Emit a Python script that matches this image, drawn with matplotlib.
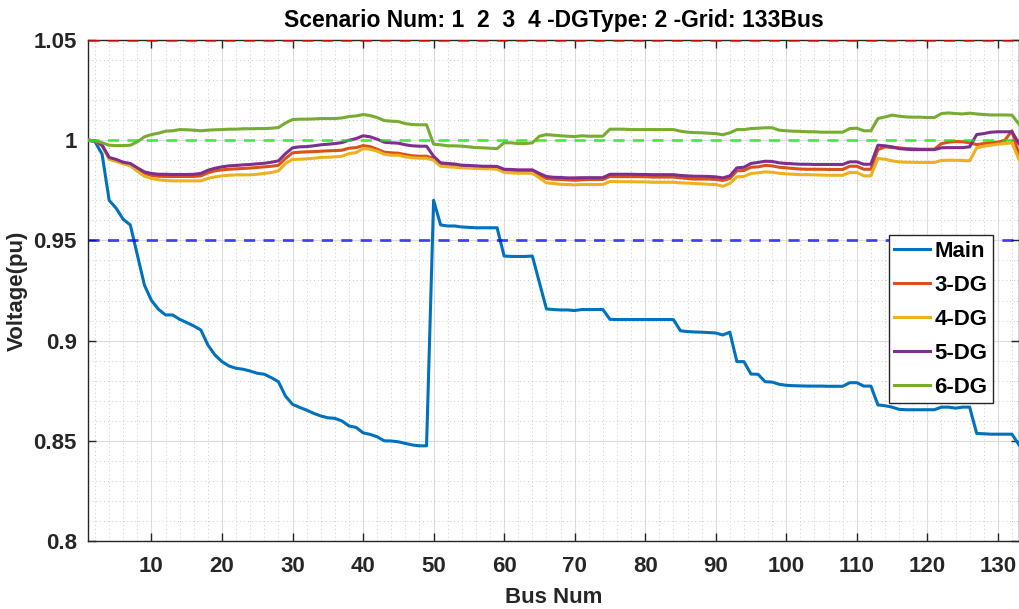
import matplotlib
matplotlib.use("Agg")
import matplotlib.pyplot as plt
from matplotlib.ticker import MultipleLocator, FixedLocator

plt.rcParams['font.family'] = ['Liberation Sans', 'DejaVu Sans']
plt.rcParams['font.weight'] = 'bold'

bus = list(range(1, 134))

v_main = [
    1.0, 0.9992, 0.993, 0.970, 0.966, 0.9605, 0.9577, 0.9427, 0.9277, 0.920,
    0.9156, 0.9128, 0.9128, 0.9106, 0.909, 0.9073, 0.9053, 0.8978, 0.8928, 0.8895,
    0.8873, 0.8862, 0.8857, 0.8848, 0.8837, 0.8832, 0.8815, 0.8795, 0.8723, 0.8682,
    0.8667, 0.8653, 0.8637, 0.8624, 0.8615, 0.8612, 0.8599, 0.8574, 0.8567, 0.854,
    0.8532, 0.852, 0.850, 0.8499, 0.8495, 0.8487, 0.8479, 0.8475, 0.8475, 0.970,
    0.9577, 0.9572, 0.9572, 0.9567, 0.9565, 0.9563, 0.9563, 0.9563, 0.9563, 0.9422,
    0.942, 0.942, 0.942, 0.9422, 0.929, 0.9158, 0.9155, 0.9153, 0.9153, 0.915,
    0.9155, 0.9155, 0.9155, 0.9155, 0.9106, 0.9105, 0.9105, 0.9105, 0.9105, 0.9105,
    0.9105, 0.9105, 0.9105, 0.9105, 0.9049, 0.9045, 0.9043, 0.9042, 0.904, 0.9038,
    0.9028, 0.9042, 0.8895, 0.8895, 0.8833, 0.8832, 0.8795, 0.8793, 0.8782, 0.8777,
    0.8775, 0.8774, 0.8773, 0.8773, 0.8773, 0.8772, 0.8772, 0.8772, 0.879, 0.879,
    0.8773, 0.8773, 0.8679, 0.8675, 0.8668, 0.8657, 0.8655, 0.8655, 0.8655, 0.8655,
    0.8655, 0.8668, 0.8668, 0.8663, 0.8668, 0.8668, 0.8537, 0.8535, 0.8533, 0.8533,
    0.8533, 0.8533, 0.848,
]

v_dg3 = [
    1.0, 0.9997, 0.9975, 0.991, 0.9899, 0.9887, 0.988, 0.9855, 0.9834, 0.9824,
    0.982, 0.9819, 0.9819, 0.9819, 0.9819, 0.9819, 0.9822, 0.9837, 0.9847, 0.9852,
    0.9855, 0.9857, 0.9859, 0.9861, 0.9864, 0.9867, 0.987, 0.9875, 0.9909, 0.9937,
    0.994, 0.9942, 0.9943, 0.9945, 0.9947, 0.9948, 0.995, 0.996, 0.9963, 0.9973,
    0.9968, 0.9955, 0.994, 0.9937, 0.9935, 0.9928, 0.9922, 0.992, 0.992, 0.991,
    0.9879, 0.9875, 0.9874, 0.987, 0.9869, 0.9867, 0.9866, 0.9865, 0.9864, 0.9849,
    0.9845, 0.9844, 0.9844, 0.9844, 0.9825, 0.9809, 0.9805, 0.9804, 0.9802, 0.98,
    0.9802, 0.9804, 0.9804, 0.9804, 0.9819, 0.9818, 0.9818, 0.9818, 0.9818, 0.9818,
    0.9816, 0.9816, 0.9816, 0.9816, 0.9812, 0.9809, 0.9806, 0.9806, 0.9806, 0.9804,
    0.9799, 0.9809, 0.9847, 0.9849, 0.9865, 0.9867, 0.9874, 0.9872, 0.9865, 0.9862,
    0.9859, 0.9856, 0.9855, 0.9855, 0.9855, 0.9854, 0.9854, 0.9854, 0.987, 0.987,
    0.9855, 0.9855, 0.9953, 0.9967, 0.9963, 0.9962, 0.9958, 0.9957, 0.9955, 0.9955,
    0.9955, 0.9983, 0.999, 0.9993, 0.9992, 0.9987, 0.9978, 0.9983, 0.9987, 0.999,
    1.0, 1.0047, 0.9925,
]

v_dg4 = [
    1.0, 0.9996, 0.9972, 0.9904, 0.9894, 0.9882, 0.9872, 0.9845, 0.982, 0.9809,
    0.9802, 0.9799, 0.9797, 0.9797, 0.9797, 0.9797, 0.9797, 0.9809, 0.9817, 0.9822,
    0.9825, 0.9827, 0.9827, 0.9827, 0.983, 0.9834, 0.9839, 0.9847, 0.9884, 0.9904,
    0.9905, 0.9907, 0.991, 0.9914, 0.9915, 0.9917, 0.992, 0.9933, 0.9938, 0.9958,
    0.9955, 0.9945, 0.993, 0.9925, 0.9925, 0.9917, 0.9912, 0.991, 0.991, 0.99,
    0.987, 0.9867, 0.9865, 0.9862, 0.9861, 0.9859, 0.9858, 0.9857, 0.9855, 0.9839,
    0.9837, 0.9835, 0.9835, 0.9835, 0.9812, 0.9787, 0.9784, 0.978, 0.9779, 0.9777,
    0.9779, 0.9779, 0.9779, 0.9779, 0.9794, 0.9793, 0.9793, 0.9793, 0.9792, 0.9792,
    0.979, 0.979, 0.979, 0.979, 0.9787, 0.9786, 0.9784, 0.9782, 0.978, 0.9779,
    0.977, 0.9784, 0.9817, 0.9819, 0.9834, 0.9837, 0.9842, 0.984, 0.9835, 0.9832,
    0.983, 0.9828, 0.9828, 0.9827, 0.9826, 0.9825, 0.9825, 0.9825, 0.9839, 0.9839,
    0.9822, 0.9822, 0.9909, 0.9905, 0.9897, 0.9892, 0.989, 0.989, 0.9889, 0.9889,
    0.9889, 0.9899, 0.99, 0.99, 0.9899, 0.9897, 0.9962, 0.997, 0.9975, 0.998,
    0.9983, 0.9987, 0.9904,
]

v_dg5 = [
    1.0, 0.9997, 0.9975, 0.9914, 0.9904, 0.989, 0.9884, 0.9862, 0.9842, 0.9834,
    0.983, 0.983, 0.9829, 0.9829, 0.9829, 0.983, 0.9834, 0.985, 0.986, 0.9867,
    0.9872, 0.9874, 0.9877, 0.9879, 0.9882, 0.9885, 0.989, 0.9897, 0.9933, 0.9962,
    0.9967, 0.9968, 0.9972, 0.9977, 0.998, 0.9983, 0.9988, 1.0, 1.0008, 1.0022,
    1.0017, 1.0005, 0.999, 0.9987, 0.9985, 0.9977, 0.9972, 0.997, 0.997, 0.992,
    0.9887, 0.9884, 0.9881, 0.9875, 0.9874, 0.9872, 0.987, 0.987, 0.9869, 0.9855,
    0.9854, 0.9852, 0.9852, 0.9852, 0.9834, 0.9819, 0.9815, 0.9814, 0.9812, 0.9812,
    0.9813, 0.9813, 0.9813, 0.9813, 0.983, 0.983, 0.983, 0.983, 0.9829, 0.9829,
    0.9828, 0.9828, 0.9828, 0.9828, 0.9824, 0.9822, 0.982, 0.982, 0.9819, 0.9817,
    0.9812, 0.9822, 0.9862, 0.9865, 0.9884, 0.9889, 0.9895, 0.9894, 0.9887, 0.9884,
    0.9882, 0.988, 0.988, 0.9879, 0.9879, 0.9879, 0.9879, 0.9879, 0.9892, 0.9892,
    0.988, 0.988, 0.9975, 0.9972, 0.9967, 0.9958, 0.9955, 0.9953, 0.9953, 0.9953,
    0.9953, 0.9962, 0.9963, 0.9963, 0.9963, 0.9967, 1.0028, 1.0033, 1.004, 1.0042,
    1.0042, 1.0042, 0.9983,
]

v_dg6 = [
    1.0, 0.9997, 0.9987, 0.9975, 0.9973, 0.9973, 0.9975, 0.9992, 1.0017, 1.0028,
    1.0035, 1.0045, 1.0047, 1.0053, 1.0052, 1.005, 1.0047, 1.005, 1.0052, 1.0053,
    1.0055, 1.0055, 1.0057, 1.0057, 1.0058, 1.0058, 1.006, 1.0063, 1.0086, 1.0103,
    1.0105, 1.0105, 1.0106, 1.0108, 1.0108, 1.0108, 1.0111, 1.0118, 1.0121, 1.0128,
    1.0123, 1.0113, 1.0098, 1.0095, 1.0093, 1.0083, 1.0078, 1.0077, 1.0077, 0.998,
    0.9977, 0.9972, 0.9972, 0.997, 0.9967, 0.9963, 0.9962, 0.996, 0.9958, 0.9987,
    0.9987, 0.9983, 0.9983, 0.9987, 1.002, 1.0028, 1.0025, 1.0022, 1.002, 1.0018,
    1.0022, 1.002, 1.002, 1.002, 1.0055, 1.0055, 1.0055, 1.0053, 1.0053, 1.0053,
    1.0053, 1.0053, 1.0053, 1.0053, 1.0045, 1.004, 1.0038, 1.0037, 1.0035, 1.0033,
    1.0027, 1.0037, 1.0053, 1.0053, 1.0058, 1.006, 1.0062, 1.0062, 1.005, 1.0047,
    1.0045, 1.0044, 1.0042, 1.0042, 1.004, 1.004, 1.004, 1.004, 1.0058, 1.006,
    1.0047, 1.0047, 1.0108, 1.0116, 1.0125, 1.012, 1.0116, 1.0115, 1.0115, 1.0113,
    1.0113, 1.0133, 1.0136, 1.0133, 1.0131, 1.0135, 1.0131, 1.0128, 1.0126, 1.0126,
    1.0126, 1.0125, 1.008,
]

series_names = ['Main', '3-DG', '4-DG', '5-DG', '6-DG']
series_colors = ['#0072BD', '#D95319', '#EDB120', '#7E2F8E', '#77AC30']
limit_values = [1.05, 1.0, 0.95]
limit_colors = [(1, 0, 0), (0, 0.95, 0), (0, 0, 1)]

y_ticks = [0.8, 0.85, 0.9, 0.95, 1.0, 1.05]
y_tick_labels = ['0.8', '0.85', '0.9', '0.95', '1', '1.05']
x_ticks = list(range(10, 131, 10))

fig = plt.figure(figsize=(10.19, 6.09), dpi=100)
ax = fig.add_axes([88 / 1019, 68 / 609, 931 / 1019, 501 / 609])

all_series = [v_main, v_dg3, v_dg4, v_dg5, v_dg6]
handles = []
for values, name, color in zip(all_series, series_names, series_colors):
    h, = ax.plot(bus, values, color=color, lw=2.2, label=name, zorder=3)
    handles.append(h)

# limit lines, dashed on top of the curves
for value, color in zip(limit_values, limit_colors):
    ax.axhline(value, color=color, alpha=0.72, lw=2, ls=(0, (4, 3)), zorder=4)

ax.set_xlim(1, 133)
ax.set_ylim(0.8, 1.05)
ax.xaxis.set_major_locator(FixedLocator(x_ticks))
ax.xaxis.set_minor_locator(MultipleLocator(2))
ax.yaxis.set_major_locator(FixedLocator(y_ticks))
ax.set_yticklabels(y_tick_labels)
ax.yaxis.set_minor_locator(MultipleLocator(0.01))

ax.grid(which='major', color='#dcdcdc', lw=0.8, ls='-')
ax.grid(which='minor', color='#cccccc', lw=0.7, ls=(0, (1, 3)))
ax.set_axisbelow(True)

ax.tick_params(which='major', direction='in', length=6, width=1, color='#262626',
               top=True, right=True, labelsize=16, pad=8, labelcolor='#262626')
ax.tick_params(axis='x', which='major', pad=11)
ax.tick_params(which='minor', length=0, top=True, right=True)
for sp in ax.spines.values():
    sp.set_color('#262626')
    sp.set_linewidth(1)

ax.set_title('Scenario Num: 1  2  3  4 -DGType: 2 -Grid: 133Bus',
             fontsize=16.5, fontweight='bold', pad=9)
ax.set_xlabel('Bus Num', fontsize=16, fontweight='bold', color='#262626', labelpad=7)
ax.set_ylabel('Voltage(pu)', fontsize=16, fontweight='bold', color='#262626', labelpad=4)

leg = ax.legend(handles=handles, loc='upper right', bbox_to_anchor=(0.972, 0.61),
                fontsize=16, frameon=True, fancybox=False, framealpha=1,
                edgecolor='#262626', handlelength=1.6, handletextpad=0.2,
                labelspacing=0.58, borderpad=0.25, borderaxespad=0)
leg.get_frame().set_linewidth(1)

fig.savefig('out.png', dpi=100, facecolor='white')
